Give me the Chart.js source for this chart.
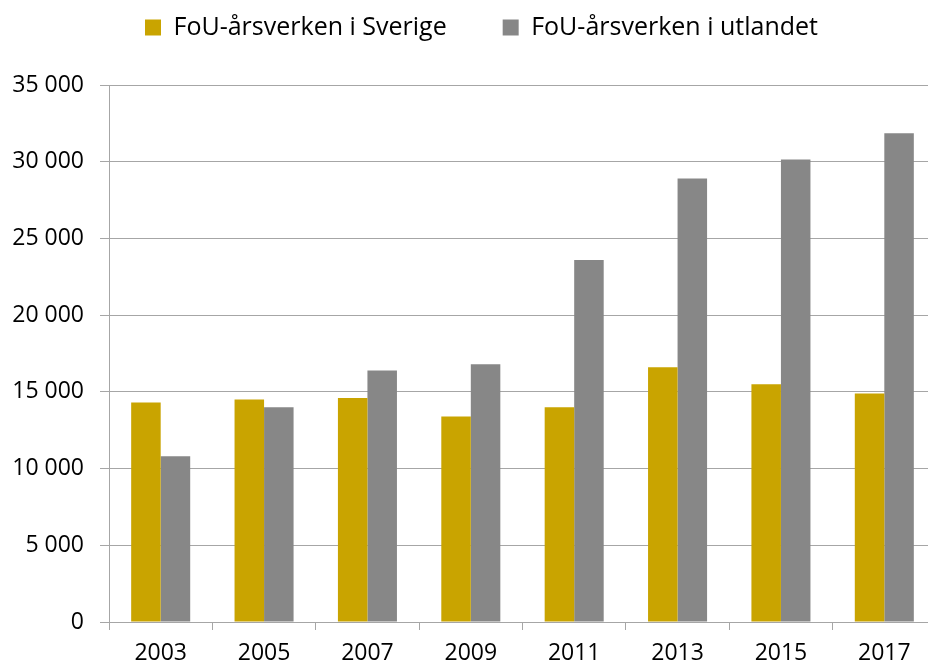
<!DOCTYPE html>
<html>
<head>
<meta charset="utf-8">
<script src="https://cdn.jsdelivr.net/npm/chart.js@4"></script>
<style>
  html, body { margin: 0; padding: 0; background: #fff; overflow: hidden; }
  #wrap { position: absolute; left: 0; top: 0; width: 945px; height: 665px; }
</style>
</head>
<body>
<div id="wrap"><canvas id="chart" width="945" height="665"></canvas></div>
<script>
// --- DATA ---
const years = ['2003', '2005', '2007', '2009', '2011', '2013', '2015', '2017'];
const sverige = [14300, 14500, 14600, 13400, 14000, 16600, 15500, 14900];
const utlandet = [10800, 14000, 16400, 16800, 23600, 28900, 30150, 31850];
const seriesNames = ['FoU-årsverken i Sverige', 'FoU-årsverken i utlandet'];
const yTicks = [0, 5000, 10000, 15000, 20000, 25000, 30000, 35000];

const FONT = "'Open Sans', sans-serif";
const GRID = '#A6A6A6';

function fmt(v) {
    return String(v).replace(/\B(?=(\d{3})+(?!\d))/g, ' ');
}

// legend keeps its own item spacing but takes a fixed height above the plot,
// and sits a bit right of the canvas centre like in the original
const legendBox = {
    id: 'legendBox',
    afterInit(chart) {
        const lg = chart.legend;
        if (!lg) return;
        const origFit = lg.fit.bind(lg);
        lg.fit = function () {
            origFit();
            this.height = 126;
        };
    },
    afterLayout(chart) {
        if (chart.legend) chart.legend.left += 27;
    }
};

const ctx = document.getElementById('chart').getContext('2d');
new Chart(ctx, {
    type: 'bar',
    data: {
        labels: years,
        datasets: [
            { label: seriesNames[0], data: sverige, backgroundColor: '#C9A400' },
            { label: seriesNames[1], data: utlandet, backgroundColor: '#878787' }
        ]
    },
    plugins: [legendBox],
    options: {
        responsive: false,
        animation: false,
        devicePixelRatio: 1,
        layout: { padding: { top: -41, right: 9, left: 0, bottom: 0 } },
        datasets: { bar: { categoryPercentage: 0.571, barPercentage: 1.0 } },
        plugins: {
            tooltip: { enabled: false },
            legend: {
                position: 'top',
                labels: {
                    font: { family: FONT, size: 25 },
                    color: '#000',
                    boxWidth: 16,
                    boxHeight: 16,
                    padding: 56
                }
            }
        },
        scales: {
            x: {
                grid: { drawOnChartArea: false, color: GRID, tickLength: 8, offset: true },
                border: { color: GRID, width: 1 },
                ticks: { font: { family: FONT, size: 23 }, color: '#000', padding: 10 },
                afterFit: s => { s.height = 43; }
            },
            y: {
                min: 0,
                max: 35000,
                afterBuildTicks: s => { s.ticks = yTicks.map(v => ({ value: v })); },
                grid: { color: GRID, tickLength: 9 },
                border: { color: GRID, width: 1 },
                ticks: {
                    font: { family: FONT, size: 23 },
                    color: '#000',
                    padding: 16,
                    callback: v => fmt(v)
                },
                afterFit: s => { s.width = 109; }
            }
        }
    }
});
</script>
</body>
</html>
